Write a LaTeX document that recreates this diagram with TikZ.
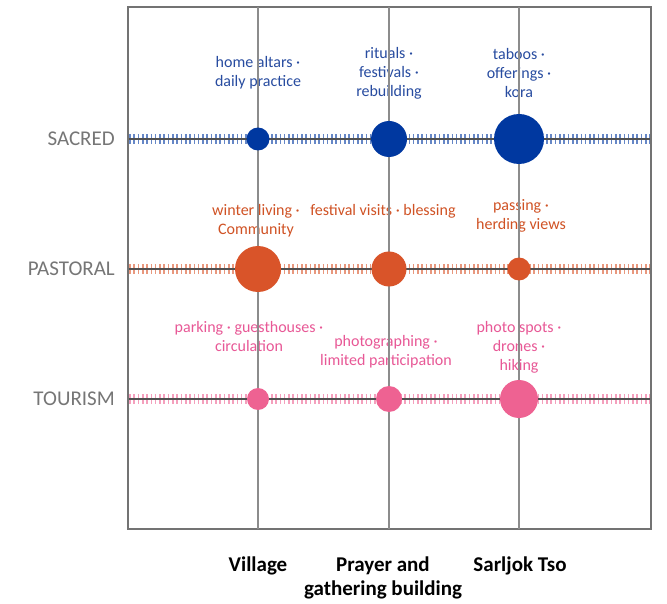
\documentclass[tikz,border=0pt]{standalone}
\usepackage{fontspec}
\setmainfont{Carlito}
\begin{document}
\begin{tikzpicture}[x=1pt,y=-1pt,
  note/.style={align=center,font=\fontsize{16}{19}\selectfont,inner sep=0pt},
  rowlab/.style={anchor=east,text=labgray,font=\fontsize{21}{24}\selectfont,inner sep=0pt},
  collab/.style={align=center,font=\fontsize{21}{24}\selectfont\bfseries,inner sep=0pt},
  grid/.style={draw=gridgray,line width=2.4pt},
  frame/.style={draw=framegray,line width=1.1pt},
  ticks/.style={line width=10pt,dash pattern=on 1.6pt off 2.7pt,opacity=0.6},
  axis/.style={draw=axisgray,line width=1.3pt},
  dot/.style={circle,inner sep=0pt,minimum size=#1}]
\definecolor{sblue}{RGB}{0,56,160}
\definecolor{sbluet}{RGB}{40,76,160}
\definecolor{porange}{RGB}{217,84,41}
\definecolor{poranget}{RGB}{208,82,36}
\definecolor{tpink}{RGB}{238,98,146}
\definecolor{tpinkt}{RGB}{232,88,150}
\definecolor{labgray}{RGB}{118,118,118}
\definecolor{gridgray}{RGB}{140,140,140}
\definecolor{framegray}{RGB}{115,115,115}
\definecolor{axisgray}{RGB}{80,80,80}
\useasboundingbox (0,0) rectangle (667,604);
\fill[white] (0,0) rectangle (667,604);

% annotations
\node[note,text=sbluet] (s1) at (258,73) {home altars ·\\daily practice};
\node[note,text=sbluet] (s2) at (389,73) {rituals ·\\festivals ·\\rebuilding};
\node[note,text=sbluet] (s3) at (519,73.5) {taboos ·\\offerings ·\\kora};
\node[note,text=poranget] (p1) at (256,220.5) {winter living ·\\Community};
\node[note,text=poranget] (p2) at (383,211.5) {festival visits · blessing};
\node[note,text=poranget] (p3) at (521,215.5) {passing ·\\herding views};
\node[note,text=tpinkt] (t1) at (249,337) {parking · guesthouses ·\\circulation};
\node[note,text=tpinkt] (t2) at (386,351.5) {photographing ·\\limited participation};
\node[note,text=tpinkt] (t3) at (519,347) {photo spots ·\\drones ·\\hiking};

% frame
\coordinate (tl) at (128,7);
\coordinate (br) at (651,529);
\draw[frame] (tl) rectangle (br);

% vertical grid lines
\foreach \n/\x in {cv/258,cp/389,cs/519}{
  \coordinate (\n top) at (\x,7);
  \coordinate (\n bot) at (\x,529);
  \draw[grid] (\n top) -- (\n bot);
}

% horizontal hashed lines
\foreach \n/\y/\c in {rs/139/sblue,rp/269/porange,rt/399/tpink}{
  \coordinate (\n L) at (129,\y);
  \coordinate (\n R) at (650,\y);
  \draw[ticks,draw=\c] (\n L) -- (\n R);
  \draw[axis] (\n L) -- (\n R);
}

% dots
\node[dot=23pt,fill=sblue] (ds1) at (258,139) {};
\node[dot=36pt,fill=sblue] (ds2) at (389,139) {};
\node[dot=50pt,fill=sblue] (ds3) at (519,139) {};
\node[dot=46pt,fill=porange] (dp1) at (258,269) {};
\node[dot=35pt,fill=porange] (dp2) at (389,269) {};
\node[dot=23pt,fill=porange] (dp3) at (519,269) {};
\node[dot=22pt,fill=tpink] (dt1) at (258,399) {};
\node[dot=26pt,fill=tpink] (dt2) at (389,399) {};
\node[dot=38pt,fill=tpink] (dt3) at (519,399) {};

% row labels
\node[rowlab] (lsac) at (115,139) {SACRED};
\node[rowlab] (lpas) at (115,269) {PASTORAL};
\node[rowlab] (ltou) at (115,399) {TOURISM};

% column labels
\node[collab] (cvil) at (258,566) {Village};
\node[collab] (cpra) at (383,578) {Prayer and\\gathering building};
\node[collab] (csar) at (520,566) {Sarljok Tso};
\end{tikzpicture}
\end{document}
